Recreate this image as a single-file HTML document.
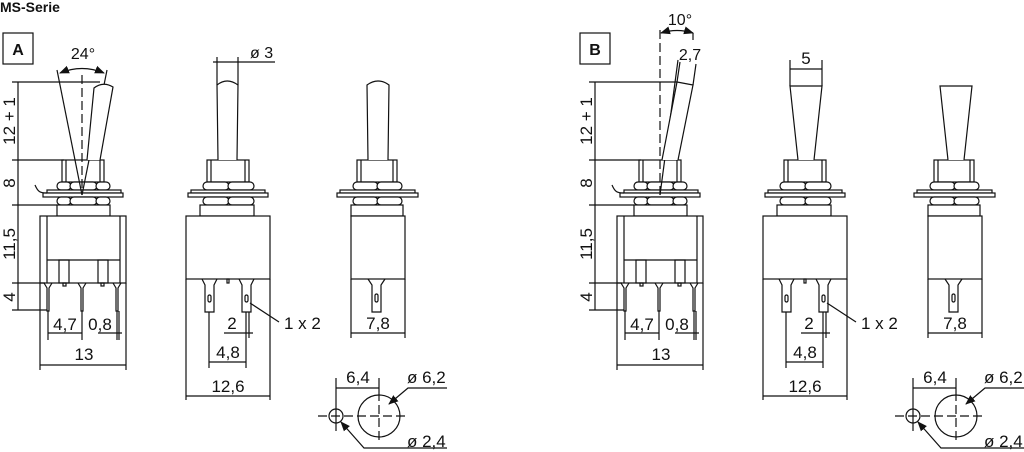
<!DOCTYPE html>
<html><head><meta charset="utf-8"><style>
html,body{margin:0;padding:0;background:#fff;width:1024px;height:452px;overflow:hidden}
svg{display:block}
text{font-family:"Liberation Sans",sans-serif;fill:#111}
</style></head><body>
<svg width="1024" height="452" viewBox="0 0 1024 452" xmlns="http://www.w3.org/2000/svg">
<defs>
<marker id="ar" viewBox="0 0 10 10" refX="9" refY="5" markerWidth="10" markerHeight="10" orient="auto-start-reverse" markerUnits="userSpaceOnUse"><path d="M0,1 L10,5 L0,9 z" fill="#111"/></marker>
<g id="common" fill="none" stroke="#111" stroke-width="1.2">
 <rect x="62" y="160" width="42" height="22" fill="#fff"/>
 <line x1="66" y1="160" x2="66" y2="182"/><line x1="100" y1="160" x2="100" y2="182"/>
 <rect x="57" y="182" width="14" height="8" rx="4" fill="#fff"/><rect x="70" y="182" width="27" height="8" rx="4" fill="#fff"/><rect x="96" y="182" width="14" height="8" rx="4" fill="#fff"/>
 <rect x="47" y="190" width="74" height="3" fill="#fff"/><rect x="43" y="193" width="80" height="4" fill="#fff"/>
 <path d="M35,185 C38,192 40,193 47,193"/>
 <rect x="57" y="197" width="14" height="8" rx="4" fill="#fff"/><rect x="70" y="197" width="27" height="8" rx="4" fill="#fff"/><rect x="96" y="197" width="14" height="8" rx="4" fill="#fff"/>
 <rect x="57" y="205" width="53" height="11" fill="#fff"/>
 <rect x="40" y="216" width="86" height="67" fill="#fff"/>
 <line x1="47" y1="216" x2="47" y2="283"/><line x1="120" y1="216" x2="120" y2="283"/>
 <line x1="47" y1="260" x2="120" y2="260"/>
 <rect x="59" y="260" width="10" height="23"/><rect x="98" y="260" width="10" height="23"/>
 <path d="M44,283 L47,288 L47,311 L49,311 L49,288 L52,283"/>
 <path d="M78,283 L81,288 L81,311 L83,311 L83,288 L86,283"/>
 <path d="M113,283 L116,288 L116,311 L118,311 L118,288 L121,283"/>
 <rect x="63" y="283" width="3" height="3"/><rect x="101" y="283" width="3" height="3"/>
 <line x1="18" y1="82" x2="18" y2="310"/>
 <line x1="12" y1="82" x2="100" y2="82"/><line x1="12" y1="160" x2="64" y2="160"/><line x1="12" y1="205" x2="57" y2="205"/><line x1="12" y1="283" x2="45" y2="283"/><line x1="12" y1="310" x2="47" y2="310"/>
 <line x1="48" y1="311" x2="48" y2="340"/><line x1="82" y1="311" x2="82" y2="340"/><line x1="117" y1="311" x2="117" y2="340"/><line x1="119" y1="311" x2="119" y2="340"/>
 <line x1="48" y1="333" x2="82" y2="333"/><line x1="98" y1="333" x2="122" y2="333"/>
 <line x1="40" y1="283" x2="40" y2="370"/><line x1="126" y1="283" x2="126" y2="370"/>
 <line x1="40" y1="365" x2="126" y2="365"/>
 <rect x="207" y="160" width="42" height="22" fill="#fff"/>
 <line x1="211" y1="160" x2="211" y2="182"/><line x1="245" y1="160" x2="245" y2="182"/>
 <rect x="203" y="182" width="26" height="8" rx="4" fill="#fff"/><rect x="228" y="182" width="26" height="8" rx="4" fill="#fff"/>
 <rect x="191" y="190" width="74" height="3" fill="#fff"/><rect x="188" y="193" width="80" height="4" fill="#fff"/>
 <rect x="203" y="197" width="26" height="8" rx="4" fill="#fff"/><rect x="228" y="197" width="26" height="8" rx="4" fill="#fff"/>
 <rect x="200" y="205" width="54" height="11" fill="#fff"/>
 <rect x="186" y="216" width="84" height="63" fill="#fff"/>
 <path d="M202,279 L205,285 L205,312 L214,312 L214,285 L217,279"/>
 <path d="M239,279 L242,285 L242,312 L251,312 L251,285 L254,279"/>
 <rect x="208" y="295" width="3" height="7" rx="1.5"/><rect x="245" y="295" width="3" height="7" rx="1.5"/>
 <rect x="227" y="279" width="2" height="4"/>
 <line x1="209" y1="312" x2="209" y2="368"/><line x1="246" y1="312" x2="246" y2="368"/><line x1="249" y1="312" x2="249" y2="338"/>
 <line x1="224" y1="333" x2="253" y2="333"/>
 <line x1="209" y1="362" x2="246" y2="362"/>
 <line x1="186" y1="279" x2="186" y2="400"/><line x1="270" y1="279" x2="270" y2="400"/>
 <line x1="186" y1="396" x2="270" y2="396"/>
 <line x1="250" y1="303" x2="279" y2="322"/>
 <rect x="357" y="160" width="40" height="22" fill="#fff"/>
 <line x1="361" y1="160" x2="361" y2="182"/><line x1="393" y1="160" x2="393" y2="182"/>
 <rect x="353" y="182" width="25" height="8" rx="4" fill="#fff"/><rect x="377" y="182" width="25" height="8" rx="4" fill="#fff"/>
 <rect x="340" y="190" width="75" height="3" fill="#fff"/><rect x="337" y="193" width="81" height="4" fill="#fff"/>
 <rect x="353" y="197" width="25" height="8" rx="4" fill="#fff"/><rect x="377" y="197" width="25" height="8" rx="4" fill="#fff"/>
 <rect x="351" y="205" width="52" height="11" fill="#fff"/>
 <rect x="351" y="216" width="54" height="63" fill="#fff"/>
 <path d="M368,279 L372,285 L372,312 L381,312 L381,285 L385,279"/>
 <rect x="375" y="294" width="3" height="8" rx="1.5"/>
 <line x1="351" y1="279" x2="351" y2="338"/><line x1="405" y1="279" x2="405" y2="338"/>
 <line x1="351" y1="333" x2="405" y2="333"/>
 <circle cx="336" cy="416" r="7"/><circle cx="379" cy="416" r="21"/>
 <line x1="318" y1="416" x2="406" y2="416" stroke-dasharray="9,4"/>
 <line x1="379" y1="392" x2="379" y2="440" stroke-dasharray="9,4"/>
 <line x1="336" y1="378" x2="336" y2="431"/>
 <line x1="379" y1="378" x2="379" y2="392"/>
 <line x1="336" y1="388" x2="379" y2="388"/>
 <polyline points="447,388 408,388 389,404" marker-end="url(#ar)"/>
 <polyline points="447,448 364,448 341,422" marker-end="url(#ar)"/>
</g>
</defs>

<text x="0" y="12" font-size="14" font-weight="bold">MS-Serie</text>

<use href="#common"/>
<rect x="3" y="33" width="30" height="31" fill="none" stroke="#111" stroke-width="1.2"/>
<text x="18" y="55" font-size="16" font-weight="bold" text-anchor="middle">A</text>
<g fill="none" stroke="#111" stroke-width="1.2">
 <line x1="82" y1="75" x2="82" y2="195" stroke-dasharray="9,4"/>
 <line x1="82" y1="195" x2="57" y2="70"/><line x1="82" y1="195" x2="107" y2="70"/>
 <path d="M60,73 Q82,64 104,73" marker-start="url(#ar)" marker-end="url(#ar)"/>
 <path d="M87,160 L94,88 Q103,81 113,87 L100,160" fill="#fff"/>
 <path d="M218,160 L217,85 Q227,77 238,85 L237,160" fill="#fff"/>
 <line x1="217" y1="57" x2="217" y2="85"/><line x1="238" y1="57" x2="238" y2="85"/>
 <line x1="213" y1="62" x2="275" y2="62"/>
 <path d="M368,160 L367,85 Q378,77 389,85 L388,160" fill="#fff"/>
</g>
<text x="83" y="59" font-size="16" text-anchor="middle">24°</text>
<text x="250" y="58" font-size="16">ø 3</text>
<g font-size="17" text-anchor="middle">
 <text transform="translate(15,121) rotate(-90)">12 + 1</text>
 <text transform="translate(15,183) rotate(-90)">8</text>
 <text transform="translate(15,244) rotate(-90)">11,5</text>
 <text transform="translate(15,297) rotate(-90)">4</text>
 <text x="65" y="330">4,7</text><text x="100" y="330">0,8</text>
 <text x="84" y="360">13</text>
 <text x="232" y="329">2</text><text x="228" y="358">4,8</text>
 <text x="228" y="392">12,6</text><text x="378" y="329">7,8</text>
 <text x="358" y="383">6,4</text>
</g>
<text x="284" y="329" font-size="17">1 x 2</text>
<text x="407" y="383" font-size="17">ø 6,2</text>
<text x="407" y="447" font-size="17">ø 2,4</text>

<g transform="translate(577,0)"><use href="#common"/></g>
<rect x="580" y="33" width="30" height="31" fill="none" stroke="#111" stroke-width="1.2"/>
<text x="595" y="55" font-size="16" font-weight="bold" text-anchor="middle">B</text>
<g fill="none" stroke="#111" stroke-width="1.2">
 <line x1="660" y1="30" x2="660" y2="195" stroke-dasharray="9,4"/>
 <line x1="660" y1="195" x2="678" y2="60"/>
 <path d="M662,160 L677,82 L693,85 L678,160" fill="#fff"/>
 <line x1="677" y1="82" x2="680" y2="62"/><line x1="693" y1="85" x2="696" y2="64"/>
 <path d="M661,33 Q677,28 693,33" marker-start="url(#ar)" marker-end="url(#ar)"/>
 <line x1="693" y1="33" x2="693" y2="40"/>
 <path d="M798,160 L790,86 L822,86 L814,160" fill="#fff"/>
 <line x1="790" y1="60" x2="790" y2="86"/><line x1="822" y1="60" x2="822" y2="86"/>
 <line x1="790" y1="69" x2="822" y2="69"/>
 <path d="M948,160 L940,86 L972,86 L964,160" fill="#fff"/>
</g>
<text x="680" y="25" font-size="16" text-anchor="middle">10°</text>
<text x="690" y="60" font-size="16" text-anchor="middle">2,7</text>
<g font-size="17" text-anchor="middle">
 <text transform="translate(592,121) rotate(-90)">12 + 1</text>
 <text transform="translate(592,183) rotate(-90)">8</text>
 <text transform="translate(592,244) rotate(-90)">11,5</text>
 <text transform="translate(592,297) rotate(-90)">4</text>
 <text x="642" y="330">4,7</text><text x="677" y="330">0,8</text>
 <text x="661" y="360">13</text>
 <text x="809" y="329">2</text><text x="805" y="358">4,8</text>
 <text x="805" y="392">12,6</text><text x="955" y="329">7,8</text>
 <text x="935" y="383">6,4</text>
 <text x="806" y="64">5</text>
</g>
<text x="861" y="329" font-size="17">1 x 2</text>
<text x="984" y="383" font-size="17">ø 6,2</text>
<text x="984" y="447" font-size="17">ø 2,4</text>
</svg>
</body></html>
